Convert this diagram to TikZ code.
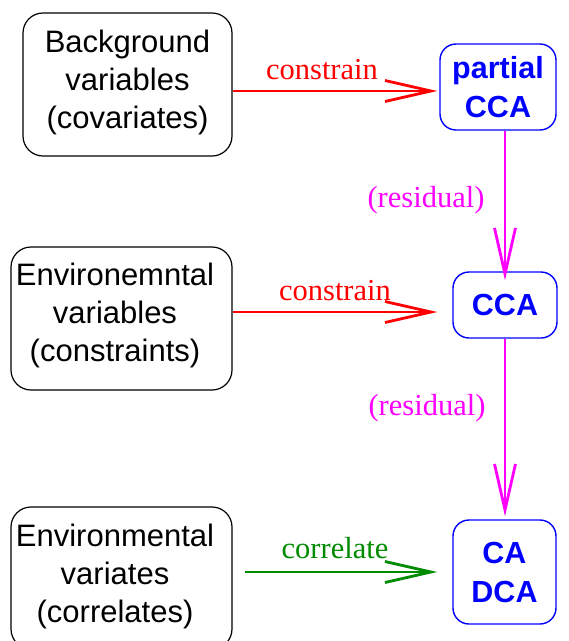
\documentclass[tikz,border=0pt]{standalone}
\usepackage{fontspec}
\setmainfont{Liberation Serif}
\setsansfont{Liberation Sans}
\usetikzlibrary{arrows.meta}
\definecolor{mblue}{RGB}{0,0,255}
\definecolor{mred}{RGB}{255,0,0}
\definecolor{mmag}{RGB}{255,0,255}
\definecolor{mgreen}{RGB}{0,139,0}
\begin{document}
\begin{tikzpicture}[x=1pt,y=-1pt,
  srcbox/.style={draw=black, line width=1.2pt, rounded corners=20pt, inner sep=0pt},
  srctext/.style={font=\sffamily\fontsize{31}{38}\selectfont, align=center, inner sep=0pt},
  methbox/.style={draw=mblue, line width=1.4pt, rounded corners=16pt, inner sep=0pt,
    text=mblue, font=\sffamily\bfseries\fontsize{30.5}{39}\selectfont, align=center},
  link/.style={line width=2.8pt, -{Straight Barb[length=46pt,width=21pt,line width=2.8pt]}},
  lbl/.style={font=\fontsize{30.5}{34}\selectfont, anchor=base, inner sep=0pt}
]
\useasboundingbox (0,0) rectangle (569,641);

% data tables on the left
\node[srcbox, minimum width=209pt, minimum height=143pt] (b1) at (127.5,84.5) {};
\node[srcbox, minimum width=221pt, minimum height=143pt] (b2) at (121.5,318.5) {};
\node[srcbox, minimum width=221pt, minimum height=142pt] (b3) at (121.5,578) {};
\node[srctext] (t1) at (127.5,82) {Background\\variables\\(covariates)};
\node[srctext] (t2) at (115,315) {Environemntal\\variables\\(constraints)};
\node[srctext] (t3) at (115,576) {Environmental\\variates\\(correlates)};

% ordination methods on the right
\node[methbox, minimum width=116pt, minimum height=86pt] (p) at (498,87) {partial\\CCA};
\node[methbox, minimum width=104pt, minimum height=66pt] (c) at (505,305) {CCA};
\node[methbox, minimum width=103pt, minimum height=104pt] (d) at (504.5,572) {CA\\DCA};

% horizontal connectors
\coordinate (a1) at ([yshift=-6.5pt]b1.east);
\coordinate (a2) at ([yshift=6.5pt]b2.east);
\coordinate (a3) at (245,572);
\draw[link, mred, shorten >=2pt] (a1) -- (a1 -| p.west);
\draw[link, mred, shorten >=15pt] (a2) -- (a2 -| c.west);
\draw[link, mgreen, shorten >=15pt] (a3) -- (a3 -| d.west);

% vertical connectors
\draw[link, mmag, shorten >=-9pt] (p.south -| c.north) -- (c.north);
\draw[link, mmag, shorten >=3pt] (c.south) -- (d.north -| c.south);

% labels
\node[lbl, text=mred] (l1) at (322,79) {constrain};
\node[lbl, text=mred] (l2) at (335,300) {constrain};
\node[lbl, text=mgreen] (l3) at (335,558) {correlate};
\node[lbl, text=mmag] (l4) at (426,207) {(residual)};
\node[lbl, text=mmag] (l5) at (427,415) {(residual)};
\end{tikzpicture}
\end{document}
